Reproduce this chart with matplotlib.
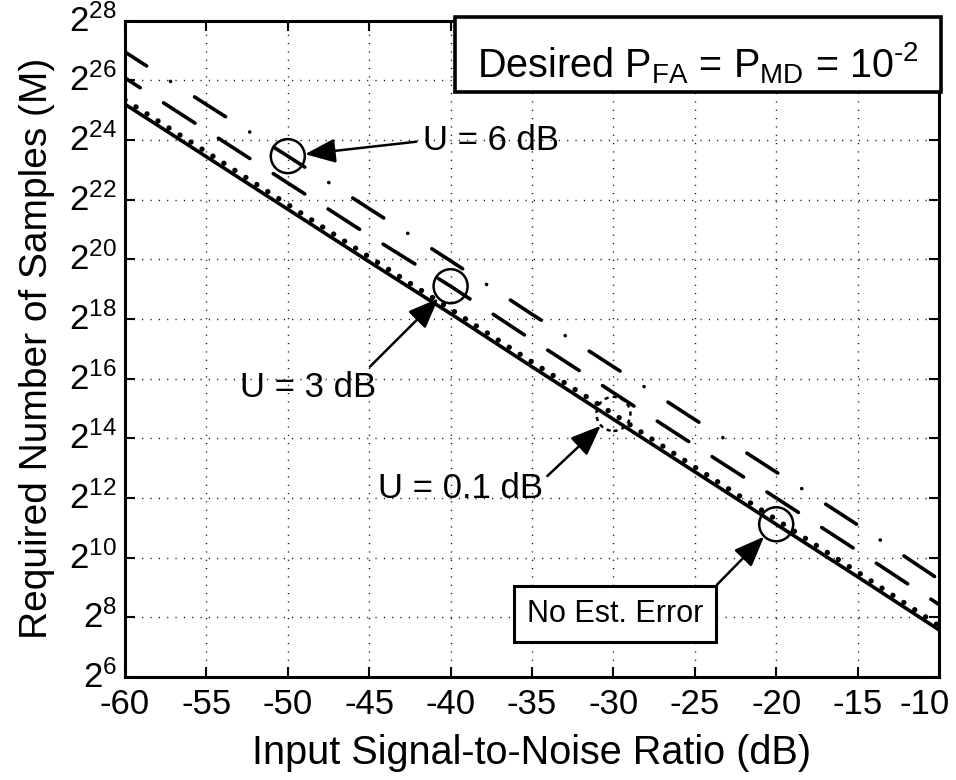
import numpy as np
import matplotlib
matplotlib.use("Agg")
import matplotlib.pyplot as plt
from matplotlib.ticker import LogFormatterSciNotation, NullLocator, FixedLocator
from matplotlib.patches import Rectangle
from matplotlib.transforms import ScaledTranslation

plt.rcParams['font.family'] = ['Liberation Sans', 'DejaVu Sans']
plt.rcParams['mathtext.fontset'] = 'custom'
plt.rcParams['mathtext.rm'] = 'Liberation Sans'
plt.rcParams['mathtext.it'] = 'Liberation Sans:italic'
plt.rcParams['mathtext.bf'] = 'Liberation Sans:bold'
plt.rcParams['lines.scale_dashes'] = False

# ---- data (log2 of required number of samples M) ----
snr_db = [-60, -55, -50, -45, -40, -35, -30, -25, -20, -15, -10]
log2M_no_error = [25.20, 23.44, 21.68, 19.92, 18.18, 16.40, 14.64, 12.88, 11.12, 9.36, 7.58]
log2M_u01 = [25.35, 23.60, 21.84, 20.08, 18.33, 16.56, 14.82, 13.04, 11.28, 9.52, 7.72]
log2M_u3 = [26.08, 24.32, 22.56, 20.80, 19.10, 17.30, 15.53, 13.76, 12.00, 10.23, 8.43]
log2M_u6 = [26.95, 25.19, 23.46, 21.70, 19.95, 18.16, 16.40, 14.63, 12.87, 11.10, 9.27]

circle_labels = ["U = 6 dB", "U = 3 dB", "U = 0.1 dB", "No Est. Error"]
circle_snr = [-50, -40, -30, -20]

ytick_exp = list(range(6, 29, 2))
xticks = list(range(-60, -9, 5))

snr = np.array(snr_db, dtype=float)
series = [
    (log2M_no_error, '-', 2.6),
    (log2M_u01, (0, (0.1, 9.3)), 3.8),
    (log2M_u3, (14, (27, 20)), 2.6),
    (log2M_u6, (8, (26.5, 20.5, 0.1, 20.5)), 2.6),
]

fig = plt.figure(figsize=(9.56, 7.8), dpi=100)
W, H = 956, 780
L, R, T, B = 125, 939, 20.7, 677
ax = fig.add_axes([L / W, 1 - B / H, (R - L) / W, (B - T) / H])

for vals, ls, lw in series:
    ax.plot(snr, 2.0 ** np.array(vals), color='k', linestyle=ls, lw=lw,
            dash_capstyle='round', solid_capstyle='round', zorder=3)

ax.set_yscale('log', base=2)
ax.set_xlim(-60, -10)
ax.set_ylim(2.0 ** 6, 2.0 ** 28)
ax.xaxis.set_major_locator(FixedLocator(xticks))
ax.yaxis.set_major_locator(FixedLocator([2.0 ** e for e in ytick_exp]))
ax.yaxis.set_minor_locator(NullLocator())
ax.yaxis.set_major_formatter(LogFormatterSciNotation(base=2))
ax.set_xticklabels([str(v) for v in xticks])

ax.grid(True, which='major', color='k', linestyle=(0, (0.8, 5.2)), lw=1.0)
ax.tick_params(direction='in', length=7, width=1.5, top=True, right=True,
               labelsize=25)
ax.tick_params(axis='x', pad=8)
ax.tick_params(axis='y', pad=6)
for s in ax.spines.values():
    s.set_linewidth(2.2)

# nudge the last x tick label inward (as in the reference) and raise y labels a little
xlabels = ax.get_xticklabels()
xlabels[-1].set_transform(xlabels[-1].get_transform() +
                          ScaledTranslation(-14 / 100, 0, fig.dpi_scale_trans))
for lab in ax.get_yticklabels():
    lab.set_transform(lab.get_transform() +
                      ScaledTranslation(0, 3 / 100, fig.dpi_scale_trans))

ax.set_xlabel('Input Signal-to-Noise Ratio (dB)', fontsize=28.5, labelpad=9)
ax.set_ylabel('Required Number of Samples (M)', fontsize=28, labelpad=10)

# circles at the annotated points
circle_series = [log2M_u6, log2M_u3, log2M_u01, log2M_no_error]
circle_ls = ['-', '-', (0, (3, 3)), '-']
for xs, vals, cls in zip(circle_snr, circle_series, circle_ls):
    yv = 2.0 ** vals[snr_db.index(xs)]
    ax.scatter([xs], [yv], s=24.5 ** 2, facecolors='none', edgecolors='k',
               linewidths=1.8, linestyles=[cls], zorder=5)

arrow = dict(arrowstyle='-|>,head_length=0.55,head_width=0.22', color='k',
             lw=1.8, mutation_scale=34, shrinkB=12.5)

def cy(i):
    return 2.0 ** circle_series[i][snr_db.index(circle_snr[i])]

# U = 6 dB
ax.annotate(circle_labels[0], xy=(circle_snr[0], cy(0)), xytext=(-37.5, 2.0 ** 23.97),
            fontsize=25, ha='center', va='center',
            arrowprops=dict(arrow, relpos=(0.0, 0.5), shrinkA=3), zorder=6)
# U = 3 dB
ax.annotate(circle_labels[1], xy=(circle_snr[1], cy(1)), xytext=(-48.76, 2.0 ** 15.69),
            fontsize=25, ha='center', va='center',
            arrowprops=dict(arrow, relpos=(0.92, 1.0), shrinkA=2), zorder=6)
# U = 0.1 dB
ax.annotate(circle_labels[2], xy=(circle_snr[2], cy(2)), xytext=(-39.42, 2.0 ** 12.31),
            fontsize=25, ha='center', va='center',
            arrowprops=dict(arrow, relpos=(1.0, 0.75), shrinkA=2), zorder=6)
# No Est. Error
ax.annotate(circle_labels[3], xy=(circle_snr[3], cy(3)), xytext=(-29.9, 2.0 ** 8.12),
            fontsize=22, ha='center', va='center',
            bbox=dict(boxstyle='square,pad=0.42', fc='white', ec='k', lw=2.2),
            arrowprops=dict(arrow, relpos=(1.0, 1.0), shrinkA=0), zorder=6)

# top-right text box
x0 = (455 - L) / (R - L)
y0 = (B - 92) / (B - T)
y1 = (B - 17) / (B - T)
x1 = (941 - L) / (R - L)
ax.add_patch(Rectangle((x0, y0), x1 - x0, y1 - y0, transform=ax.transAxes,
                       fc='white', ec='k', lw=2.6, zorder=7, clip_on=False))
ax.text((x0 + x1) / 2, (B - 77) / (B - T),
        r'Desired P$_{\mathrm{FA}}$ = P$_{\mathrm{MD}}$ = 10$^{\text{-2}}$',
        transform=ax.transAxes, ha='center', va='baseline', fontsize=28.5, zorder=8)

fig.savefig('out.png', dpi=100)
